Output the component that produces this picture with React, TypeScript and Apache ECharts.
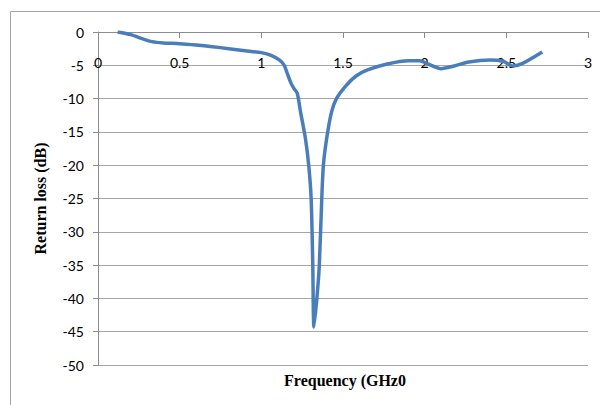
import React, { useEffect, useRef } from "react";
import * as echarts from "echarts";

const freqGHz = [
  0.12, 0.2, 0.27, 0.33, 0.4, 0.5, 0.6, 0.7, 0.8, 0.9, 1.0, 1.06, 1.11, 1.14,
  1.16, 1.18, 1.2, 1.22, 1.24, 1.27, 1.29, 1.305, 1.315, 1.322, 1.34, 1.355,
  1.37, 1.38, 1.4, 1.43, 1.46, 1.52, 1.58, 1.65, 1.77, 1.9, 1.97, 2.02, 2.1,
  2.18, 2.27, 2.4, 2.48, 2.54, 2.6, 2.72,
];
const returnLossDB = [
  0, -0.4, -1.0, -1.45, -1.65, -1.75, -1.95, -2.2, -2.5, -2.8, -3.1, -3.5, -4.2,
  -5.0, -6.3, -7.6, -8.5, -9.2, -12, -16, -20, -25, -35, -44.3, -40, -35, -25,
  -20, -16, -12, -10, -8, -6.6, -5.7, -4.8, -4.3, -4.3, -4.8, -5.5, -5.1, -4.5,
  -4.2, -4.4, -5.1, -4.7, -3.0,
];
const xTickInterval = 0.5;
const yTickInterval = 5;
const xTitle = "Frequency (GHz0";
const yTitle = "Return loss (dB)";

export default function App() {
  const ref = useRef<HTMLDivElement>(null);
  useEffect(() => {
    document.body.style.margin = "0";
    const chart = echarts.init(ref.current!, null, { renderer: "svg" });
    const labelFont = "Lato, 'Liberation Sans', sans-serif";
    const titleFont = "'Liberation Serif', 'Times New Roman', serif";
    chart.setOption({
      animation: false,
      backgroundColor: "#ffffff",
      grid: { left: 98, top: 32, right: 12, bottom: 40 },
      graphic: [
        {
          type: "rect",
          shape: { x: 10.5, y: 11.5, width: 620, height: 420 },
          style: { fill: "none", stroke: "#a6a6a6", lineWidth: 1 },
          silent: true,
          z: -1,
        },
        {
          type: "text",
          x: 345,
          y: 380,
          style: {
            text: xTitle,
            font: `bold 16px ${titleFont}`,
            fill: "#000000",
            align: "center",
            verticalAlign: "middle",
          },
        },
      ],
      xAxis: {
        type: "value",
        position: "top",
        min: 0,
        max: 3,
        interval: xTickInterval,
        axisLine: { show: true, onZero: false, lineStyle: { color: "#8c8c8c", width: 1 } },
        axisTick: { show: true, inside: true, length: 6, lineStyle: { color: "#8c8c8c" } },
        splitLine: { show: false },
        axisLabel: {
          inside: true,
          color: "#000000",
          fontSize: 14,
          fontFamily: labelFont,
          margin: 23,
        },
      },
      yAxis: {
        type: "value",
        min: -50,
        max: 0,
        interval: yTickInterval,
        name: yTitle,
        nameLocation: "middle",
        nameRotate: 90,
        nameGap: 50,
        nameTextStyle: {
          fontFamily: titleFont,
          fontWeight: "bold",
          fontSize: 16,
          color: "#000000",
        },
        axisLine: { show: true, lineStyle: { color: "#8c8c8c", width: 1 } },
        axisTick: { show: true, length: 5, lineStyle: { color: "#8c8c8c" } },
        splitLine: { show: true, lineStyle: { color: "#a6a6a6", width: 1 } },
        axisLabel: {
          color: "#000000",
          fontSize: 14,
          fontFamily: labelFont,
          margin: 14,
        },
      },
      series: [
        {
          type: "line",
          data: freqGHz.map((f, i) => [f, returnLossDB[i]]),
          smooth: 0.25,
          showSymbol: false,
          lineStyle: { color: "#4a7ebb", width: 3.5 },
          itemStyle: { color: "#4a7ebb" },
        },
      ],
    });
    return () => chart.dispose();
  }, []);
  return (
    <div
      ref={ref}
      style={{ position: "absolute", left: 0, top: 0, width: 600, height: 405 }}
    />
  );
}
